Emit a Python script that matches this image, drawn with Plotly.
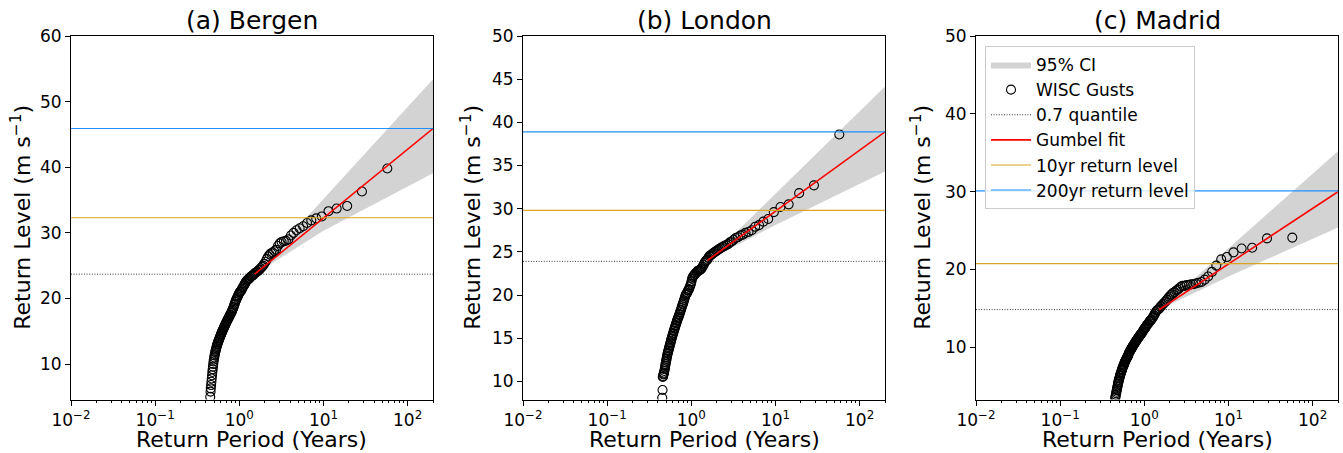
import math
import plotly.graph_objects as go

# ---------------- data ----------------
RETURN_PERIOD = [
    57.3, 28.65, 19.1, 14.33, 11.46, 9.55, 8.19, 7.16, 6.37, 5.73,
    5.21, 4.78, 4.41, 4.09, 3.82, 3.58, 3.37, 3.18, 3.02, 2.87,
    2.73, 2.60, 2.49, 2.39, 2.29, 2.20, 2.12, 2.05, 1.98, 1.91,
    1.85, 1.79, 1.74, 1.69, 1.64, 1.59, 1.55, 1.51, 1.47, 1.43,
    1.40, 1.36, 1.33, 1.30, 1.27, 1.25, 1.22, 1.19, 1.17, 1.15,
    1.12, 1.10, 1.08, 1.06, 1.04, 1.02, 1.005, 0.988, 0.971, 0.955,
    0.939, 0.924, 0.910, 0.895, 0.882, 0.868, 0.855, 0.843, 0.830, 0.819,
    0.807, 0.796, 0.785, 0.774, 0.764, 0.754, 0.744, 0.735, 0.725, 0.716,
    0.707, 0.699, 0.690, 0.682, 0.674, 0.666, 0.659, 0.651, 0.644, 0.637,
    0.630, 0.623, 0.616, 0.610, 0.603, 0.597, 0.591, 0.585, 0.579, 0.573,
    0.567, 0.562, 0.556, 0.551, 0.546, 0.541, 0.536, 0.531, 0.526, 0.521,
    0.516, 0.512, 0.507, 0.503, 0.498, 0.494, 0.490, 0.486, 0.482, 0.478,
    0.474, 0.470, 0.466, 0.462, 0.458, 0.455, 0.451,
]

BERGEN_GUSTS = [
    39.8, 36.3, 34.1, 33.7, 33.3, 32.5, 32.2, 31.9, 31.5, 31.0,
    30.7, 30.4, 30.0, 29.6, 29.0, 28.8, 28.7, 28.6, 28.4, 28.0,
    27.4, 27.2, 27.0, 26.9, 26.7, 26.4, 26.0, 25.6, 25.3, 25.0,
    24.8, 24.6, 24.4, 24.3, 24.1, 24.0, 23.9, 23.8,
    23.6, 23.5, 23.4, 23.3, 23.1, 23.0, 22.9, 22.8, 22.7, 22.5,
    22.3, 22.1, 21.9, 21.7, 21.5, 21.3, 21.1, 21.0, 20.9, 20.7,
    20.5, 20.3, 20.1, 19.9, 19.7, 19.5, 19.2, 19.0, 18.7, 18.5,
    18.3, 18.1, 17.9, 17.8, 17.6, 17.5, 17.3, 17.2, 17.0, 16.9,
    16.8, 16.6, 16.5, 16.3, 16.2, 16.0, 15.9, 15.8, 15.6, 15.5,
    15.3, 15.2, 15.1, 14.9, 14.8, 14.6, 14.5, 14.3, 14.2, 14.0,
    13.9, 13.7, 13.6, 13.4, 13.3, 13.1, 13.0, 12.8, 12.6, 12.4,
    12.2, 12.0, 11.8, 11.5, 11.3, 11.0, 10.7, 10.4, 10.0, 9.6,
    9.2, 8.8, 8.3, 7.8, 7.3, 6.8, 6.3, 5.8, 5.0,
]

LONDON_GUSTS = [
    38.6, 32.7, 31.8, 30.5, 30.2, 29.6, 28.8, 28.5, 28.1, 27.9,
    27.5, 27.3, 27.2, 27.0, 26.9, 26.7, 26.6, 26.4, 26.2, 26.1,
    25.9, 25.8, 25.7, 25.6, 25.5, 25.4, 25.3, 25.2, 25.1, 25.0,
    24.9, 24.8, 24.7, 24.6, 24.5, 24.3, 24.1, 24.0,
    23.9, 23.7, 23.5, 23.3, 23.1, 23.0, 22.9, 22.9, 22.8, 22.8,
    22.7, 22.6, 22.5, 22.4, 22.3, 22.2, 22.1, 21.9, 21.6, 21.3,
    21.1, 20.9, 20.7, 20.6, 20.5, 20.3, 20.2, 20.1, 20.0, 19.8,
    19.6, 19.4, 19.2, 19.0, 18.9, 18.7, 18.5, 18.3, 18.2, 18.0,
    17.8, 17.7, 17.5, 17.4, 17.3, 17.1, 17.0, 16.8, 16.7, 16.5,
    16.4, 16.2, 16.1, 15.9, 15.8, 15.6, 15.5, 15.3, 15.2, 15.0,
    14.9, 14.7, 14.5, 14.4, 14.2, 14.1, 13.9, 13.8, 13.6, 13.5,
    13.3, 13.2, 13.0, 12.8, 12.6, 12.4, 12.2, 12.0, 11.8, 11.6,
    11.4, 11.2, 11.0, 10.9, 10.8, 10.6, 10.5, 9.0, 8.1,
]

MADRID_GUSTS = [
    24.1, 24.0, 22.8, 22.7, 22.2, 21.6, 21.3, 20.5, 19.7, 19.1,
    18.7, 18.4, 18.3, 18.2, 18.1, 18.1, 18.0, 18.0, 17.9, 17.9,
    17.8, 17.6, 17.4, 17.3, 17.1, 17.0, 16.8, 16.7, 16.5, 16.3,
    16.1, 15.9, 15.8, 15.6, 15.5, 15.3, 15.2, 15.0,
    14.9, 14.8, 14.7, 14.5, 14.3, 14.1, 13.9, 13.8, 13.6, 13.5,
    13.4, 13.3, 13.1, 13.0, 12.9, 12.8, 12.6, 12.5, 12.4, 12.3,
    12.2, 12.0, 11.9, 11.8, 11.7, 11.6, 11.5, 11.4, 11.3, 11.2,
    11.1, 11.0, 10.9, 10.8, 10.7, 10.6, 10.5, 10.4, 10.3, 10.2,
    10.1, 10.0, 9.9, 9.8, 9.7, 9.6, 9.5, 9.4, 9.3, 9.2,
    9.0, 8.9, 8.8, 8.7, 8.6, 8.5, 8.4, 8.3, 8.2, 8.1,
    8.0, 7.8, 7.7, 7.6, 7.5, 7.4, 7.2, 7.1, 7.0, 6.8,
    6.7, 6.6, 6.4, 6.3, 6.1, 6.0, 5.8, 5.6, 5.5, 5.3,
    5.1, 4.9, 4.7, 4.5, 4.3, 4.1, 3.9, 3.7, 3.5,
]

CITIES = ["(a) Bergen", "(b) London", "(c) Madrid"]
GUSTS = [BERGEN_GUSTS, LONDON_GUSTS, MADRID_GUSTS]

# Gumbel fit line (return period, level)
FIT_T = [[1.52, 10, 200], [1.55, 10, 200], [1.5, 10, 200]]
FIT_Y = [[23.7, 32.3, 45.9], [24.0, 29.75, 38.9], [14.83, 20.75, 30.0]]
# 95% CI band
CI_T = [[1.52, 10, 200], [1.55, 10, 200], [1.5, 10, 200]]
CI_UP = [[23.7, 35.2, 53.4], [24.0, 31.7, 44.15], [14.83, 22.7, 35.2]]
CI_LO = [[23.7, 30.3, 39.1], [24.0, 28.1, 34.3], [14.83, 19.1, 25.4]]
# horizontal reference levels
Q70 = [23.7, 23.9, 14.85]
RL10 = [32.3, 29.8, 20.75]
RL200 = [45.9, 38.9, 30.1]

X_SPAN = [0.01, 200]
Y_RANGES = [[4.6, 60], [7.9, 50], [3.3, 50]]
Y_TICKS = [[10, 20, 30, 40, 50, 60],
           [10, 15, 20, 25, 30, 35, 40, 45, 50],
           [10, 20, 30, 40, 50]]
X_TICKS = [0.01, 0.1, 1, 10, 100]
X_TICKTEXT = ["10<sup>−2</sup>", "10<sup>−1</sup>", "10<sup>0</sup>",
              "10<sup>1</sup>", "10<sup>2</sup>"]

# ---------------- layout geometry ----------------
W, H = 1343, 453
PX_X = [(71, 433), (523, 885), (976, 1338)]
PX_TOP, PX_BOT = 36, 399.5
YTITLE_X = [21, 471, 921]
FONT = "DejaVu Sans"

GRAY = "#d3d3d3"
RED = "#ff0000"
GOLD = "#daa520"
BLUE = "#1e90ff"

minor_vals = [m * 10 ** e for e in range(-2, 3) for m in range(2, 10) if m * 10 ** e <= 200]

fig = go.Figure()

for i in range(3):
    xa = "x" if i == 0 else f"x{i+1}"
    ya = "y" if i == 0 else f"y{i+1}"
    show = (i == 2)
    bx = CI_T[i] + CI_T[i][::-1]
    by = CI_UP[i] + CI_LO[i][::-1]
    fig.add_trace(go.Scatter(x=bx, y=by, fill="toself", fillcolor=GRAY,
                             line=dict(width=0, color=GRAY), mode="lines",
                             name="95% CI", showlegend=show, legendgroup="g1",
                             xaxis=xa, yaxis=ya, hoverinfo="skip"))
    fig.add_trace(go.Scatter(x=RETURN_PERIOD, y=GUSTS[i], mode="markers",
                             marker=dict(symbol="circle-open", size=9, color="black",
                                         line=dict(width=1.1, color="black")),
                             name="WISC Gusts", showlegend=show, legendgroup="g2",
                             xaxis=xa, yaxis=ya))
    fig.add_trace(go.Scatter(x=X_SPAN, y=[Q70[i], Q70[i]], mode="lines",
                             line=dict(color="black", width=0.8, dash="1px,1.6px"),
                             name="0.7 quantile", showlegend=show, legendgroup="g3",
                             xaxis=xa, yaxis=ya))
    fig.add_trace(go.Scatter(x=FIT_T[i], y=FIT_Y[i], mode="lines",
                             line=dict(color=RED, width=1.6),
                             name="Gumbel fit", showlegend=show, legendgroup="g4",
                             xaxis=xa, yaxis=ya))
    fig.add_trace(go.Scatter(x=X_SPAN, y=[RL10[i], RL10[i]], mode="lines",
                             line=dict(color=GOLD, width=1.1),
                             name="10yr return level", showlegend=show, legendgroup="g5",
                             xaxis=xa, yaxis=ya))
    fig.add_trace(go.Scatter(x=X_SPAN, y=[RL200[i], RL200[i]], mode="lines",
                             line=dict(color=BLUE, width=1.1),
                             name="200yr return level", showlegend=show, legendgroup="g6",
                             xaxis=xa, yaxis=ya))

layout = dict(
    width=W, height=H, autosize=False,
    margin=dict(l=0, r=0, t=0, b=0),
    paper_bgcolor="white", plot_bgcolor="white",
    font=dict(family=FONT, color="black", size=17),
    showlegend=True,
    legend=dict(x=985 / W, y=1 - 46 / H, xanchor="left", yanchor="top",
                bgcolor="rgba(255,255,255,0.8)", bordercolor="#cccccc", borderwidth=1,
                font=dict(size=17, family=FONT), traceorder="grouped",
                tracegroupgap=0, itemwidth=40),
    annotations=[],
)

for i in range(3):
    sx = "" if i == 0 else str(i + 1)
    x0, x1 = PX_X[i]
    layout[f"xaxis{sx}"] = dict(
        type="log", range=[-2, math.log10(200)],
        domain=[x0 / W, x1 / W], anchor=f"y{sx}",
        tickvals=X_TICKS, ticktext=X_TICKTEXT, ticks="outside", ticklen=5,
        tickwidth=1, tickcolor="black", showline=True, linecolor="black",
        linewidth=1, mirror=True, showgrid=False, zeroline=False,
        automargin=False, tickfont=dict(size=17),
        minor=dict(tickvals=minor_vals, ticks="outside", ticklen=2.5,
                   tickwidth=0.8, tickcolor="black", showgrid=False),
    )
    layout[f"yaxis{sx}"] = dict(
        range=Y_RANGES[i], domain=[1 - PX_BOT / H, 1 - PX_TOP / H],
        anchor=f"x{sx}", tickvals=Y_TICKS[i], ticks="outside", ticklen=5,
        tickwidth=1, tickcolor="black", showline=True, linecolor="black",
        linewidth=1, mirror=True, showgrid=False, zeroline=False,
        automargin=False, tickfont=dict(size=17),
    )
    cx = (x0 + x1) / 2 / W
    layout["annotations"].append(dict(
        text=CITIES[i], x=cx, y=1 - 20 / H, xref="paper", yref="paper",
        xanchor="center", yanchor="middle", showarrow=False,
        font=dict(size=25, family=FONT)))
    layout["annotations"].append(dict(
        text="Return Period (Years)", x=cx, y=1 - 439 / H, xref="paper", yref="paper",
        xanchor="center", yanchor="middle", showarrow=False,
        font=dict(size=22, family=FONT)))
    layout["annotations"].append(dict(
        text="Return Level (m s<sup>−1</sup>)", x=YTITLE_X[i] / W,
        y=1 - (PX_TOP + PX_BOT) / 2 / H, xref="paper", yref="paper",
        xanchor="center", yanchor="middle", textangle=-90, showarrow=False,
        font=dict(size=22, family=FONT)))

fig.update_layout(**layout)
fig.write_html(
    "out.html",
    config={"displayModeBar": False},
    post_script="document.body.style.margin='0';document.body.style.overflow='hidden';",
)
